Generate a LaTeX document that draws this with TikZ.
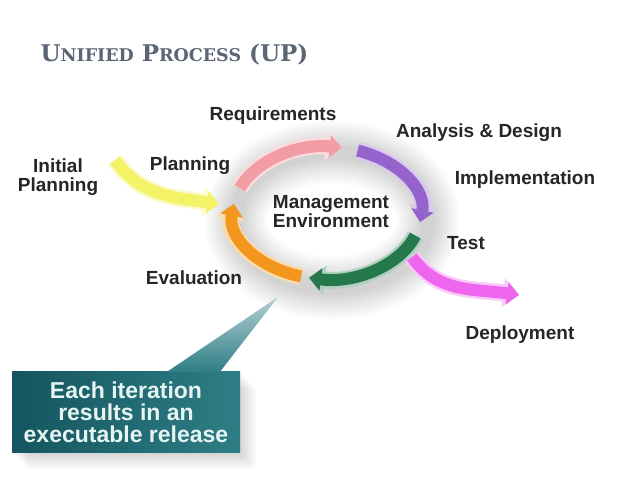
\documentclass[tikz,border=0pt]{standalone}
\usepackage{fontspec}
\setmainfont{Liberation Sans}
\newfontfamily\titlefont{DejaVu Serif}
\usetikzlibrary{arrows.meta,positioning}
\definecolor{titlegray}{HTML}{5B6575}
\definecolor{pinkc}{HTML}{F29CA4}
\definecolor{purplec}{HTML}{9464CC}
\definecolor{greenc}{HTML}{24784C}
\definecolor{orangec}{HTML}{F2961E}
\definecolor{yellowc}{HTML}{F4F266}
\definecolor{magentac}{HTML}{EE66EE}
\definecolor{tealdark}{HTML}{14555F}
\definecolor{teallight}{HTML}{2F7E86}
\definecolor{tealpale}{HTML}{B4D0D4}
\definecolor{calltext}{HTML}{E6F4F2}
\newcommand\capsword[2]{{\fontsize{23}{24}\selectfont #1}{\fontsize{17.5}{24}\selectfont #2}}

\begin{document}
\begin{tikzpicture}[x=1pt,y=1pt]
	\tikzset{bandarrow/.style={preaction={draw=#1!35!white,line width=17pt,-{Triangle[width=28pt,length=16pt]}},
		draw=#1,line width=12pt,-{Triangle[width=22pt,length=12pt]}},
		lbl/.style={font=\bfseries\fontsize{19}{19}\selectfont,text=black!85,align=center},
		halo/.style={black,opacity=0.02},
		callbox/.style={minimum width=228pt,minimum height=81pt,inner sep=0pt,left color=tealdark,right color=teallight,
			text=calltext,font=\bfseries\fontsize{23}{22}\selectfont,align=center}};

	\useasboundingbox[fill=white] (0,0) rectangle (638,479);

	\node[anchor=west,text=titlegray,font=\titlefont\bfseries\fontsize{23}{24}\selectfont] (title) at (37,424)
		{\capsword{U}{NIFIED} \capsword{P}{ROCESS} \capsword{(UP)}{}};

	\coordinate (ring) at (327,266);
	\foreach \w in {62,56,...,14}
		\draw[halo,line width=\w pt] ([shift={(5,-7)}]ring) ellipse [x radius=96,y radius=68];

	\foreach \s in {2,4,...,16}
		\fill[halo] (12+\s,26-\s) rectangle (240+\s,107-\s);

	\coordinate (yA) at (115,319);
	\coordinate (yB) at (219,275);
	\coordinate (mA) at (412,222);
	\coordinate (mB) at (519,184);
	\draw[bandarrow=yellowc] (yA) to[out=-55,in=172] (yB);
	\draw[bandarrow=magentac] (mA) to[out=-55,in=172] (mB);

	\foreach \col/\from/\to in {pinkc/158/81, purplec/71/-8, greenc/-20/-101, orangec/-106/-188}
		\draw[bandarrow=\col] ([shift={(\from:94 and 66)}]ring) arc[start angle=\from,end angle=\to,x radius=94,y radius=66];

	\node[lbl] (req) at (273,363) {Requirements};
	\node[lbl] (anl) at (479,346) {Analysis \& Design};
	\node[lbl] (impl) at (525,299) {Implementation};
	\node[lbl] (init) at (58,302) {Initial\\Planning};
	\node[lbl] (plan) at (190,313) {Planning};
	\node[lbl] (mgmt) at (331,267) {Management\\Environment};
	\node[lbl] (test) at (466,236) {Test};
	\node[lbl] (eval) at (194,201) {Evaluation};
	\node[lbl] (depl) at (520,144) {Deployment};

	\node[callbox] (callout) at (126,66.5) {Each iteration\\results in an\\executable release};
	\coordinate (point) at (278,182);
	\shade[top color=tealpale,bottom color=teallight] ([xshift=41pt]callout.north) -- (point) -- ([xshift=94pt]callout.north) -- cycle;
\end{tikzpicture}
\end{document}
